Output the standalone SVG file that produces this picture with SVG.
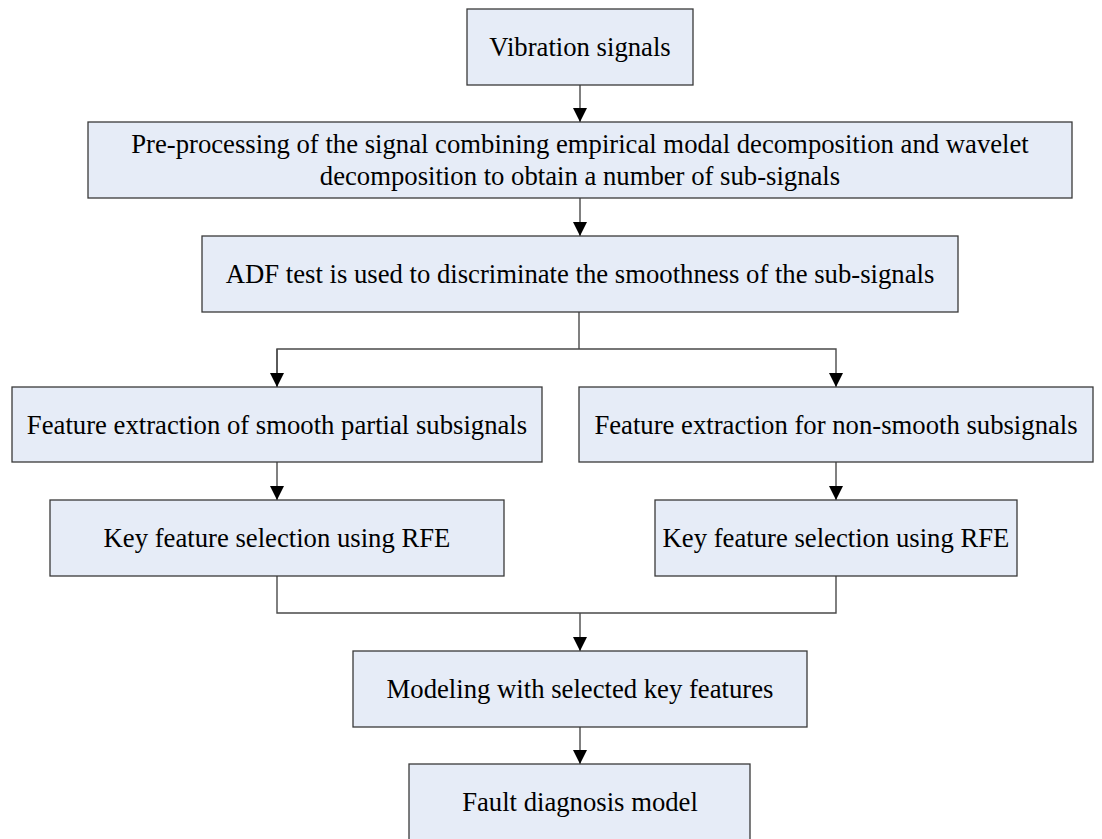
<svg xmlns="http://www.w3.org/2000/svg" width="1102" height="839" viewBox="0 0 1102 839">
<style>
.box{fill:#E6ECF7;stroke:#3a3a3a;stroke-width:1.3}
.t{font-family:"Liberation Serif","Times New Roman",serif;font-size:26.7px;fill:#000;text-anchor:middle}
.c{fill:none;stroke:#4a4a4a;stroke-width:1.4}
</style>
<defs>
<marker id="ah" viewBox="0 0 14 14" refX="14" refY="7" markerWidth="14" markerHeight="14" markerUnits="userSpaceOnUse" orient="auto">
<path d="M0,0 L14,7 L0,14 Z" fill="#000"/>
</marker>
</defs>
<rect width="1102" height="839" fill="#fff"/>
<g id="connectors">
<line class="c" x1="580" y1="85" x2="580" y2="122" marker-end="url(#ah)"/>
<line class="c" x1="580" y1="198" x2="580" y2="236" marker-end="url(#ah)"/>
<polyline class="c" points="579,312 579,349"/>
<polyline class="c" points="277,387 277,349 836,349 836,387" marker-end="url(#ah)"/>
<line class="c" x1="277" y1="349" x2="277" y2="387" marker-end="url(#ah)"/>
<line class="c" x1="277" y1="462" x2="277" y2="500" marker-end="url(#ah)"/>
<line class="c" x1="836" y1="462" x2="836" y2="500" marker-end="url(#ah)"/>
<polyline class="c" points="277,576 277,613 836,613 836,576"/>
<line class="c" x1="580" y1="613" x2="580" y2="651" marker-end="url(#ah)"/>
<line class="c" x1="580" y1="727" x2="580" y2="764" marker-end="url(#ah)"/>
</g>
<g id="n1"><rect class="box" x="467" y="9" width="226" height="76"/><text class="t" x="580" y="56">Vibration signals</text></g>
<g id="n2"><rect class="box" x="88" y="122" width="984" height="76"/><text class="t" x="580" y="153">Pre-processing of the signal combining empirical modal decomposition and wavelet</text><text class="t" x="580" y="185">decomposition to obtain a number of sub-signals</text></g>
<g id="n3"><rect class="box" x="202" y="236" width="756" height="76"/><text class="t" x="580" y="283">ADF test is used to discriminate the smoothness of the sub-signals</text></g>
<g id="n4"><rect class="box" x="12" y="387" width="530" height="75"/><text class="t" x="277" y="434">Feature extraction of smooth partial subsignals</text></g>
<g id="n5"><rect class="box" x="579" y="387" width="514" height="75"/><text class="t" x="836" y="434">Feature extraction for non-smooth subsignals</text></g>
<g id="n6"><rect class="box" x="50" y="500" width="454" height="76"/><text class="t" x="277" y="547">Key feature selection using RFE</text></g>
<g id="n7"><rect class="box" x="655" y="500" width="362" height="76"/><text class="t" x="836" y="547">Key feature selection using RFE</text></g>
<g id="n8"><rect class="box" x="353" y="651" width="454" height="76"/><text class="t" x="580" y="698">Modeling with selected key features</text></g>
<g id="n9"><rect class="box" x="409" y="764" width="341" height="76"/><text class="t" x="580" y="811">Fault diagnosis model</text></g>
</svg>
